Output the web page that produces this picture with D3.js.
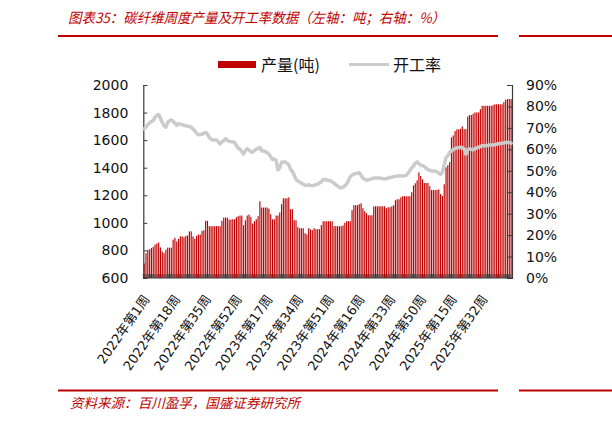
<!DOCTYPE html>
<html><head><meta charset="utf-8">
<script src="https://cdn.jsdelivr.net/npm/d3@7"></script>
<style>body{margin:0;background:#fff}svg{display:block}</style>
</head><body><svg id="c" width="612" height="422"></svg>
<script>
const years = [2022, 2023, 2024, 2025];
const weeksInYear = [52, 52, 52, 48];
const categories = [];
years.forEach((y, k) => { for (let w = 1; w <= weeksInYear[k]; w++) categories.push(`${y}年第${w}周`); });

const production = [
 705,780,805,808,818,826,842,850,857,822,792,780,805,820,820,820,878,892,865,884,
 902,902,896,906,908,938,938,902,884,906,915,915,940,947,1015,1015,976,976,976,976,
 976,976,976,1015,1038,1038,1038,1024,1024,
 1026,1026,1041,1048,1053,1053,983,1019,1053,1060,1041,995,1012,1026,1048,1157,1111,1111,1111,1111,
 1104,1063,1026,1026,1053,1053,1075,1135,1178,1178,1178,1185,1099,1099,1019,1019,969,961,961,961,
 925,916,961,952,947,961,954,954,954,983,1012,
 1012,1012,1012,1012,1012,976,976,976,976,976,981,1000,1012,1012,1012,1092,1128,1128,1128,1135,
 1142,1106,1084,1070,1055,1055,1055,1120,1120,1120,1120,1120,1120,1120,1106,1113,1113,1120,1128,1164,
 1171,1171,1185,1193,1193,1193,1193,1193,1222,1272,1287,1308,
 1366,1340,1316,1289,1289,1289,1265,1238,1238,1238,1238,1243,1209,1195,1280,1403,1419,1441,1620,1634,
 1666,1678,1678,1683,1700,1680,1680,1772,1782,1782,1791,1801,1801,1801,1825,1849,1849,1849,1849,1849,
 1849,1854,1860,1860,1860,1860,1860,1876,1893,1898,1898,1898
];
const rate = [
 69.5,70.5,71.5,72.4,73,73.4,75,75.8,76.2,74.5,
 72.5,70.9,70.3,72.5,73.4,73.7,73,72.2,71.2,72,
 71.8,71.5,71.2,71,70.9,70.6,70.3,69.5,68.7,67.5,
 66.8,66.9,67,67.6,67.9,67.1,65.5,64.7,64.4,64.4,
 64.4,63.5,62.5,63.5,64,65,64.2,63.7,63.5,63.6,
 63.2,61.8,60.5,60.1,59,57.8,59.4,60.3,59.6,59,
 58.6,59.5,60,60.4,60.9,59.2,59.3,59,58.4,57.8,
 56.5,55.3,55.5,54.8,50.4,51.5,54,54.1,54.1,53.5,
 52.8,50.7,49.7,47.9,46,45.3,44.8,44.2,43.8,43.3,
 43.2,43.5,43.2,43,43.3,43.5,43.8,44.3,44.9,45.8,
 46,45.7,45.5,45.4,44.8,44.2,43.5,42.9,42.2,42,
 42.4,43,43.8,45.5,47.2,48,48.5,48.7,48.8,49.1,
 48,46.5,46,45.7,45.8,46,46.3,46.6,46.6,46.6,
 46.6,46.5,46.3,46.3,46.3,46.6,46.9,47,47.2,47.4,
 47.6,47.6,47.6,47.6,47.7,47.9,48.8,50.2,51.3,52.2,
 53.5,54.2,53.3,52.6,52.4,52,51.2,50.5,50.2,49.9,
 49.9,49.8,49.6,48.8,48.4,49.3,52.7,56.1,57,58.5,
 59.4,59.8,60.4,60.6,60.8,61,60.8,60.2,57.7,59.8,
 60.2,60,59.8,60.3,60.7,61,61.3,61.7,61.7,61.7,
 61.8,62,62,62,62.2,62.4,62.6,62.7,62.9,63,
 63.2,63.2,63.2,62.9
];
const leftTicks = [600, 800, 1000, 1200, 1400, 1600, 1800, 2000];
const rightTicks = [0, 10, 20, 30, 40, 50, 60, 70, 80, 90];
const tickEvery = 17;
const seriesNames = ["产量(吨)", "开工率"];
const titleText = "图表35：碳纤维周度产量及开工率数据（左轴：吨；右轴：%）";
const sourceText = "资料来源：百川盈孚，国盛证券研究所";

const RED = "#C00000", GRAY = "#CBCBCB", AX = "#3a3a3a";
const numFont = "'DejaVu Sans','Noto Sans CJK SC',sans-serif";
const cjkFont = "'Noto Sans CJK SC','DejaVu Sans',sans-serif";

const svg = d3.select("#c");
svg.append("rect").attr("width", 612).attr("height", 422).attr("fill", "#fff");

const L = 143.3, R = 512, T = 85, B = 278;
const x = d3.scaleBand().domain(categories).range([L, R]).paddingInner(0.36).paddingOuter(0.18);
const yL = d3.scaleLinear().domain([600, 2000]).range([B, T]);
const yR = d3.scaleLinear().domain([0, 90]).range([B, T]);

// title
svg.append("text").attr("x", 68).attr("y", 23).attr("fill", RED)
  .attr("font-family", cjkFont).attr("font-size", 14).attr("font-style", "italic")
  .attr("textLength", 377).attr("lengthAdjust", "spacingAndGlyphs").text(titleText);
svg.append("line").attr("x1", 58).attr("x2", 498).attr("y1", 36).attr("y2", 36).attr("stroke", RED).attr("stroke-width", 2);
svg.append("line").attr("x1", 519).attr("x2", 612).attr("y1", 36).attr("y2", 36).attr("stroke", RED).attr("stroke-width", 2);

// source
svg.append("line").attr("x1", 58).attr("x2", 498).attr("y1", 390.5).attr("y2", 390.5).attr("stroke", RED).attr("stroke-width", 2);
svg.append("line").attr("x1", 519).attr("x2", 612).attr("y1", 390.5).attr("y2", 390.5).attr("stroke", RED).attr("stroke-width", 2);
svg.append("text").attr("x", 70).attr("y", 408).attr("fill", RED)
  .attr("font-family", cjkFont).attr("font-size", 13.5).attr("font-style", "italic")
  .attr("textLength", 230).attr("lengthAdjust", "spacingAndGlyphs").text(sourceText);

// bars
svg.append("g").selectAll("rect").data(production).join("rect")
  .attr("x", (d, i) => x(categories[i])).attr("width", x.bandwidth())
  .attr("y", d => yL(d)).attr("height", d => yL(600) - yL(d)).attr("fill", RED);

// x axis ticks (category boundaries, inward)
const gx = svg.append("g");
gx.selectAll("line.t").data(categories).join("line").attr("class", "t")
  .attr("x1", c => x(c) - x.step() * x.paddingInner() / 2).attr("x2", c => x(c) - x.step() * x.paddingInner() / 2)
  .attr("y1", B).attr("y2", B - 4).attr("stroke", AX).attr("stroke-width", 0.8);
gx.append("line").attr("x1", L).attr("x2", R).attr("y1", B).attr("y2", B).attr("stroke", AX).attr("stroke-width", 1.2);
gx.selectAll("text").data(categories.filter((c, i) => i % tickEvery === 0)).join("text")
  .attr("transform", c => `translate(${x(c) + x.bandwidth() / 2 + 6},${B + 21}) rotate(-55)`)
  .attr("text-anchor", "end").attr("font-family", numFont).attr("font-size", 13).attr("fill", "#111")
  .text(c => c);

// left axis
const gl = svg.append("g").attr("transform", `translate(${L},0)`)
  .call(d3.axisLeft(yL).tickValues(leftTicks).tickSize(-4).tickSizeOuter(-4).tickPadding(15).tickFormat(d3.format("d")));
gl.select(".domain").attr("stroke", AX).attr("stroke-width", 1.2);
gl.selectAll(".tick line").attr("stroke", AX);
gl.selectAll("text").attr("font-family", numFont).attr("font-size", 14).attr("fill", "#111");

// right axis
const gr = svg.append("g").attr("transform", `translate(${R},0)`)
  .call(d3.axisRight(yR).tickValues(rightTicks).tickSize(-5).tickSizeOuter(-5).tickPadding(14).tickFormat(d => d + "%"));
gr.select(".domain").attr("stroke", AX).attr("stroke-width", 1.2);
gr.selectAll(".tick line").attr("stroke", AX);
gr.selectAll("text").attr("font-family", numFont).attr("font-size", 14).attr("fill", "#111");

// line
const line = d3.line().x((d, i) => x(categories[i]) + x.bandwidth() / 2).y(d => yR(d));
svg.append("path").datum(rate).attr("d", line).attr("fill", "none")
  .attr("stroke", GRAY).attr("stroke-width", 3.5).attr("stroke-linejoin", "round").attr("stroke-linecap", "round");

// legend
const lg = svg.append("g");
lg.append("rect").attr("x", 218).attr("y", 61).attr("width", 38).attr("height", 7).attr("fill", RED);
lg.append("text").attr("x", 261).attr("y", 70.5).attr("font-family", cjkFont).attr("font-size", 16).attr("fill", "#111").text(seriesNames[0]);
lg.append("line").attr("x1", 349).attr("x2", 389).attr("y1", 64.5).attr("y2", 64.5).attr("stroke", GRAY).attr("stroke-width", 3);
lg.append("text").attr("x", 393).attr("y", 70.5).attr("font-family", cjkFont).attr("font-size", 16).attr("fill", "#111").text(seriesNames[1]);
</script></body></html>
